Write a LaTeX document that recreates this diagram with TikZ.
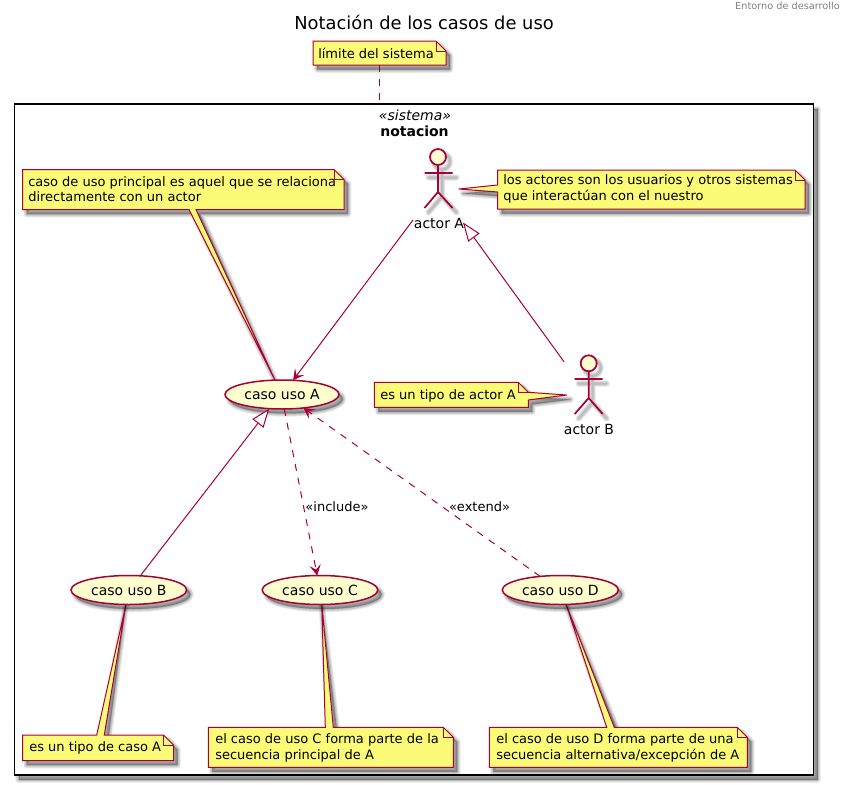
\documentclass[tikz,border=0pt]{standalone}
\usepackage{fontspec}
\setmainfont{DejaVu Sans}
\usetikzlibrary{arrows.meta,shapes.geometric}
\pgfdeclarelayer{sysl}
\pgfdeclarelayer{notesl}
\pgfsetlayers{sysl,notesl,main}
\definecolor{umlline}{HTML}{A80036}
\definecolor{umlnote}{HTML}{FBFB77}
\definecolor{umluse}{HTML}{FEFECE}
\newcommand{\softfill}[1]{\foreach \w in {6.5,5,3.5,2,0.5}{\path[fill=black,draw=black,opacity=0.07,line width=\w*0.75pt,line join=round,shift={(4,4.5)}] #1;}}
\newcommand{\softstroke}[1]{\foreach \w in {6.5,5,3.5,2}{\path[draw=black,opacity=0.07,line width=\w*0.75pt,line cap=round,shift={(4,4.5)}] #1;}}
\tikzset{
  x=0.75pt,y=-0.75pt,
  notebody/.style={draw=umlline,fill=umlnote,line width=0.75pt,line join=miter},
  notefold/.style={draw=umlline,line width=0.75pt},
  notetext/.style={anchor=west,align=left,inner sep=0pt,font=\fontsize{9.75}{11.7}\selectfont},
  usecase/.style={ellipse,draw=umlline,fill=umluse,line width=1.125pt,inner sep=0pt,outer sep=0pt,minimum height=21.75pt,font=\fontsize{10.5}{12}\selectfont},
  actorfig/.style={draw=umlline,line width=1.3pt},
  actorlabel/.style={inner sep=0pt,font=\fontsize{10.5}{12}\selectfont},
  solidrel/.style={draw=umlline,line width=0.75pt,-{Stealth[length=8pt,width=8.5pt,inset=3.5pt,fill=umlline]}},
  dashrel/.style={draw=umlline,line width=0.75pt,dash pattern=on 5.25pt off 5.25pt},
  genrel/.style={draw=umlline,line width=0.75pt,-{Triangle[open,length=14pt,width=10.5pt,fill=white]}},
  rellabel/.style={inner sep=0pt,font=\fontsize{9.75}{12}\selectfont},
}
\begin{document}
\begin{tikzpicture}
\useasboundingbox (0,0) rectangle (850,785);
% title and header
\node[inner sep=0pt,font=\fontsize{13.4}{16}\selectfont] (title) at (424,22) {Notación de los casos de uso};
\node[inner sep=0pt,anchor=east,text=gray,font=\fontsize{7.3}{9}\selectfont] (header) at (840,5.5) {Entorno de desarrollo};
% system frame
\begin{pgfonlayer}{sysl}
\fill[white] (0,0) rectangle (850,785);
\softfill{(14.5,104.5) rectangle (813.5,775)}
\node[draw=black,fill=white,line width=1.4pt,inner sep=0pt,outer sep=0pt,minimum width=599.25pt,minimum height=503pt] (sys) at (414,439.75) {};
\end{pgfonlayer}
\node[inner sep=0pt,font=\fontsize{10.5}{12}\selectfont\itshape] (stereo) at (415,115.5) {«sistema»};
\node[inner sep=0pt,font=\fontsize{10.5}{12}\selectfont\bfseries] (sysname) at (414.5,131) {notacion};
% use cases
\softfill{(282,394.5) ellipse [x radius=57,y radius=14.5]}
\node[usecase,minimum width=85.5pt] (ucA) at (282,394.5) {caso uso A};
\softfill{(128.8,590) ellipse [x radius=57.8,y radius=14.5]}
\node[usecase,minimum width=86.7pt] (ucB) at (128.8,590) {caso uso B};
\softfill{(320,590) ellipse [x radius=57.8,y radius=14.5]}
\node[usecase,minimum width=86.7pt] (ucC) at (320,590) {caso uso C};
\softfill{(560.3,590) ellipse [x radius=58,y radius=14.5]}
\node[usecase,minimum width=87pt] (ucD) at (560.3,590) {caso uso D};
% actors
\softstroke{(438,157) circle [radius=8] (424.5,173) -- (452.5,173) (438,165) -- (438,192) -- (424.5,208) (438,192) -- (452.5,208)}
\draw[actorfig,fill=umluse] (438,157) circle [radius=8];
\draw[actorfig] (424.5,173) -- (452.5,173) (438,165) -- (438,192) -- (424.5,208) (438,192) -- (452.5,208);
\node[actorlabel] (labA) at (439,223) {actor A};
\softstroke{(588.7,363.3) circle [radius=8] (574.7,379) -- (602.7,379) (588.7,371.3) -- (588.7,398) -- (574.7,414) (588.7,398) -- (602.7,414)}
\draw[actorfig,fill=umluse] (588.7,363.3) circle [radius=8];
\draw[actorfig] (574.7,379) -- (602.7,379) (588.7,371.3) -- (588.7,398) -- (574.7,414) (588.7,398) -- (602.7,414);
\node[actorlabel] (labB) at (589,429) {actor B};
% notes
\begin{pgfonlayer}{notesl}
\softfill{(313,41) -- (436,41) -- (446,51) -- (446,65) -- (313,65) -- cycle}
\path[notebody] (313,41) -- (436,41) -- (446,51) -- (446,65) -- (313,65) -- cycle;
\path[notefold] (436,41) -- (436,51) -- (446,51);

\softfill{(497.5,170) -- (795,170) -- (805,180) -- (805,209) -- (497.5,209) -- (497.5,192) -- (459,189) -- (497.5,185) -- cycle}
\path[notebody] (497.5,170) -- (795,170) -- (805,180) -- (805,209) -- (497.5,209) -- (497.5,192) -- (459,189) -- (497.5,185) -- cycle;
\path[notefold] (795,170) -- (795,180) -- (805,180);

\softfill{(22.5,169.5) -- (334,169.5) -- (344,179.5) -- (344,209.5) -- (196,209.5) -- (ucA.116) -- (189,209.5) -- (22.5,209.5) -- cycle}
\path[notebody] (22.5,169.5) -- (334,169.5) -- (344,179.5) -- (344,209.5) -- (196,209.5) -- (ucA.116) -- (189,209.5) -- (22.5,209.5) -- cycle;
\path[notefold] (334,169.5) -- (334,179.5) -- (344,179.5);

\softfill{(374.3,382.3) -- (518.3,382.3) -- (528.3,392.3) -- (566.7,395) -- (528.3,400) -- (528.3,407.3) -- (374.3,407.3) -- cycle}
\path[notebody] (374.3,382.3) -- (518.3,382.3) -- (528.3,392.3) -- (566.7,395) -- (528.3,400) -- (528.3,407.3) -- (374.3,407.3) -- cycle;
\path[notefold] (518.3,382.3) -- (518.3,392.3) -- (528.3,392.3);

\softfill{(22.5,735) -- (96.7,735) -- (ucB.-101) -- (104.3,735) -- (163.5,735) -- (173.5,745) -- (173.5,760.7) -- (22.5,760.7) -- cycle}
\path[notebody] (22.5,735) -- (96.7,735) -- (ucB.-101) -- (104.3,735) -- (163.5,735) -- (173.5,745) -- (173.5,760.7) -- (22.5,760.7) -- cycle;
\path[notefold] (163.5,735) -- (163.5,745) -- (173.5,745);

\softfill{(208.3,727.3) -- (325.3,727.3) -- (ucC.-83) -- (333.3,727.3) -- (443.3,727.3) -- (453.3,737.3) -- (453.3,767.3) -- (208.3,767.3) -- cycle}
\path[notebody] (208.3,727.3) -- (325.3,727.3) -- (ucC.-83) -- (333.3,727.3) -- (443.3,727.3) -- (453.3,737.3) -- (453.3,767.3) -- (208.3,767.3) -- cycle;
\path[notefold] (443.3,727.3) -- (443.3,737.3) -- (453.3,737.3);

\softfill{(489.3,727.3) -- (606.7,727.3) -- (ucD.-68.4) -- (614.3,727.3) -- (737.3,727.3) -- (747.3,737.3) -- (747.3,767.3) -- (489.3,767.3) -- cycle}
\path[notebody] (489.3,727.3) -- (606.7,727.3) -- (ucD.-68.4) -- (614.3,727.3) -- (737.3,727.3) -- (747.3,737.3) -- (747.3,767.3) -- (489.3,767.3) -- cycle;
\path[notefold] (737.3,727.3) -- (737.3,737.3) -- (747.3,737.3);
\end{pgfonlayer}
\node[notetext] (nLim) at (318,53.5) {límite del sistema};
\node[notetext] (nAct) at (503,189) {los actores son los usuarios y otros sistemas\\que interactúan con el nuestro};
\node[notetext] (nPri) at (28,189) {caso de uso principal es aquel que se relaciona\\directamente con un actor};
\node[notetext] (nB) at (380,395.5) {es un tipo de actor A};
\node[notetext] (nCB) at (29,748) {es un tipo de caso A};
\node[notetext] (nCC) at (215,748) {el caso de uso C forma parte de la\\secuencia principal de A};
\node[notetext] (nCD) at (496,748) {el caso de uso D forma parte de una\\secuencia alternativa/excepción de A};
% connector ends at the actors and the note
\coordinate (limOut) at (379.5,65);
\coordinate (limIn) at (379.5,100);
\coordinate (aOut) at (413,220);
\coordinate (aGen) at (463,222.5);
\coordinate (bOut) at (564,361.7);
% connectors
\draw[dashrel] (limOut) -- (limIn);
\draw[solidrel] (aOut) -- (ucA.52.4);
\draw[genrel] (bOut) -- (aGen);
\draw[genrel] (ucB.51.7) -- (ucA.-132);
\draw[dashrel,-{Stealth[length=8pt,width=8.5pt,inset=3.5pt,fill=umlline]}] (ucA.-81) -- (ucC.101.7);
\draw[dashrel,-{Stealth[length=8pt,width=8.5pt,inset=3.5pt,fill=umlline]}] (ucD.146.2) -- (ucA.-32.7);
\node[rellabel] (lInc) at (337,506.5) {«include»};
\node[rellabel] (lExt) at (479.5,506.5) {«extend»};
\end{tikzpicture}
\end{document}
